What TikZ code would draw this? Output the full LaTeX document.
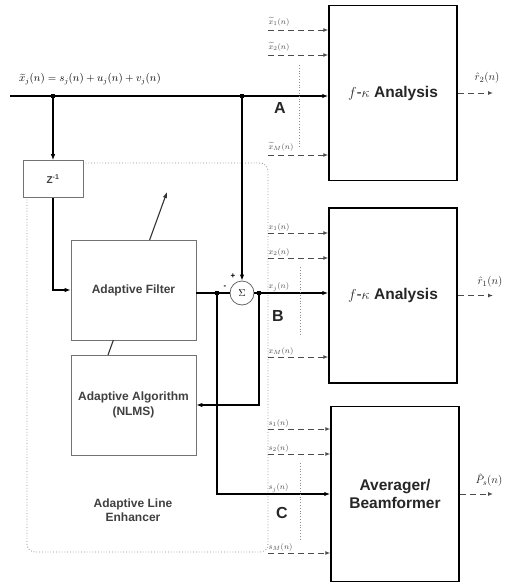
\documentclass[tikz,border=0pt]{standalone}
\usepackage{fontspec}
\setmainfont{Liberation Sans}
\usetikzlibrary{arrows.meta,positioning}

\begin{document}
\begin{tikzpicture}[x=1pt,y=-1pt,
  bigbox/.style={draw,line width=1.5pt,minimum width=128pt,minimum height=175pt,align=center,
    font=\bfseries\fontsize{15.5}{18}\selectfont,text=black!85},
  smallbox/.style={draw=black!55,fill=white,line width=0.7pt,minimum width=125pt,minimum height=100pt,
    align=center,font=\bfseries\fontsize{12}{15}\selectfont,text=black!75},
  zbox/.style={draw=black!55,fill=white,line width=0.7pt,minimum width=60pt,minimum height=37pt,
    font=\bfseries\fontsize{10}{12}\selectfont,text=black!75},
  alebox/.style={draw=black!45,dotted,line width=0.8pt,rounded corners=8pt,minimum width=241pt,minimum height=389pt},
  sumnode/.style={circle,draw=black!60,fill=white,line width=0.8pt,minimum size=24pt,inner sep=0pt,font=\fontsize{10}{12}\selectfont},
  sig/.style={line width=1.2pt},
  sigarr/.style={line width=1.2pt,-{Latex[length=6pt,width=4.5pt]}},
  chan/.style={dash pattern=on 6pt off 4pt,line width=1pt,black!70,-{Latex[length=5pt,width=4pt]}},
  chanlab/.style={anchor=south west,inner sep=0.5pt,font=\fontsize{8.5}{10}\selectfont,text=black!70},
  outlab/.style={inner sep=1pt,font=\fontsize{11}{13}\selectfont,text=black!85},
  dotsline/.style={dotted,line width=0.8pt,black!45},
  tap/.style={fill,inner sep=0pt,minimum size=4pt},
  letter/.style={font=\bfseries\fontsize{16}{18}\selectfont,text=black!85},
  sign/.style={inner sep=0pt,font=\bfseries\fontsize{8}{9}\selectfont}]
\useasboundingbox (0,0) rectangle (520,587);

% adaptive line enhancer frame
\node[alebox] (ale) at (147.5,357.5) {};
\node[align=center,font=\bfseries\fontsize{12}{14.5}\selectfont,text=black!75] (alet) at (133,510) {Adaptive Line\\Enhancer};

% blocks
\node[bigbox] (anaA) at (393,93) {{\mdseries$f$-$\kappa$} Analysis};
\node[bigbox] (anaB) at (393,295.5) {{\mdseries$f$-$\kappa$} Analysis};
\node[bigbox] (avgC) at (395,494) {Averager/\\Beamformer};
\node[zbox] (zdel) at (53,179) {Z\textsuperscript{-1}};
\node[smallbox] (afilt) at (133.5,290) {Adaptive Filter};
\node[smallbox] (aalg) at (133.5,405) {Adaptive Algorithm\\(NLMS)};
\node[sumnode] (sum) at (242,293) {$\Sigma$};
\node[sign] (plus) at (233,276) {+};
\node[sign] (minus) at (225,287) {-};

% main input line
\coordinate (xin) at (10,96);
\node[font=\fontsize{10.5}{13}\selectfont,inner sep=1pt] (xlab) at (90,79) {$\widetilde{x}_j(n)=s_j(n)+u_j(n)+v_j(n)$};
\draw[sigarr] (xin) -- (xin -| anaA.west);
\node[tap] (tap1) at (53,96) {};
\node[tap] (tap2) at (242,96) {};
\draw[sigarr] (tap1.center) -- (zdel.north);
\draw[sigarr] (zdel.south) |- (afilt.west);
\draw[sigarr] (tap2.center) -- (sum.north);
\draw[sig] (afilt.east |- sum) -- (sum.west);
\node[tap] (tap3) at (217,293) {};
\draw[sigarr] (tap3.center) |- (avgC.west);
\draw[sigarr] (sum.east) -- (sum -| anaB.west);
\node[tap] (tap4) at (259,293) {};
\draw[sigarr] (tap4.center) |- (aalg.east);

% adaptation arrow through the filter
\coordinate (w0) at (108,355); \coordinate (w1) at (113.4,340);
\coordinate (w2) at (149.6,240); \coordinate (w3) at (167,192);
\draw[line width=1.1pt,black!80] (w0) -- (w1);
\draw[line width=1.1pt,black!80,-{Latex[length=6pt,width=4.5pt]}] (w2) -- (w3);

% channels of block A
\foreach \yy/\lab [count=\i] in {30/{$\widetilde{x}_1(n)$},55/{$\widetilde{x}_2(n)$},155/{$\widetilde{x}_M(n)$}}{
  \coordinate (ca\i) at (268,\yy);
  \node[chanlab] (la\i) at ([yshift=3pt]ca\i) {\lab};
  \draw[chan] (ca\i) -- (ca\i -| anaA.west);
}
\draw[dotsline] (299,65) -- (299,148);
\node[letter] (letA) at (280,108) {A};

% channels of block B
\foreach \yy/\lab [count=\i] in {233/{$x_1(n)$},258/{$x_2(n)$},357/{$x_M(n)$}}{
  \coordinate (cb\i) at (268,\yy);
  \node[chanlab] (lb\i) at ([yshift=1pt]cb\i) {\lab};
  \draw[chan] (cb\i) -- (cb\i -| anaB.west);
}
\coordinate (cbj) at (268,293);
\node[chanlab] (lbj) at ([yshift=1pt]cbj) {$x_j(n)$};
\draw[dotsline] (300,267) -- (300,337);
\node[letter] (letB) at (278,316) {B};

% channels of block C
\foreach \yy/\lab [count=\i] in {429/{$s_1(n)$},454/{$s_2(n)$},553/{$s_M(n)$}}{
  \coordinate (cc\i) at (268,\yy);
  \node[chanlab] (lc\i) at ([yshift=1pt]cc\i) {\lab};
  \draw[chan] (cc\i) -- (cc\i -| avgC.west);
}
\coordinate (ccj) at (268,494);
\node[chanlab] (lcj) at ([yshift=1pt]ccj) {$s_j(n)$};
\draw[dotsline] (300,463) -- (300,540);
\node[letter] (letC) at (282,513) {C};

% outputs
\coordinate (oA) at (493,93); \coordinate (oB) at (493,295.5); \coordinate (oC) at (493,494);
\draw[chan] (anaA.east) -- (oA);
\draw[chan] (anaB.east) -- (oB);
\draw[chan] (avgC.east) -- (oC);
\node[outlab] (ra) at (487,78) {$\hat{r}_2(n)$};
\node[outlab] (rb) at (490,282) {$\hat{r}_1(n)$};
\node[outlab] (pc) at (489,480) {$\hat{P}_s(n)$};
\end{tikzpicture}
\end{document}
